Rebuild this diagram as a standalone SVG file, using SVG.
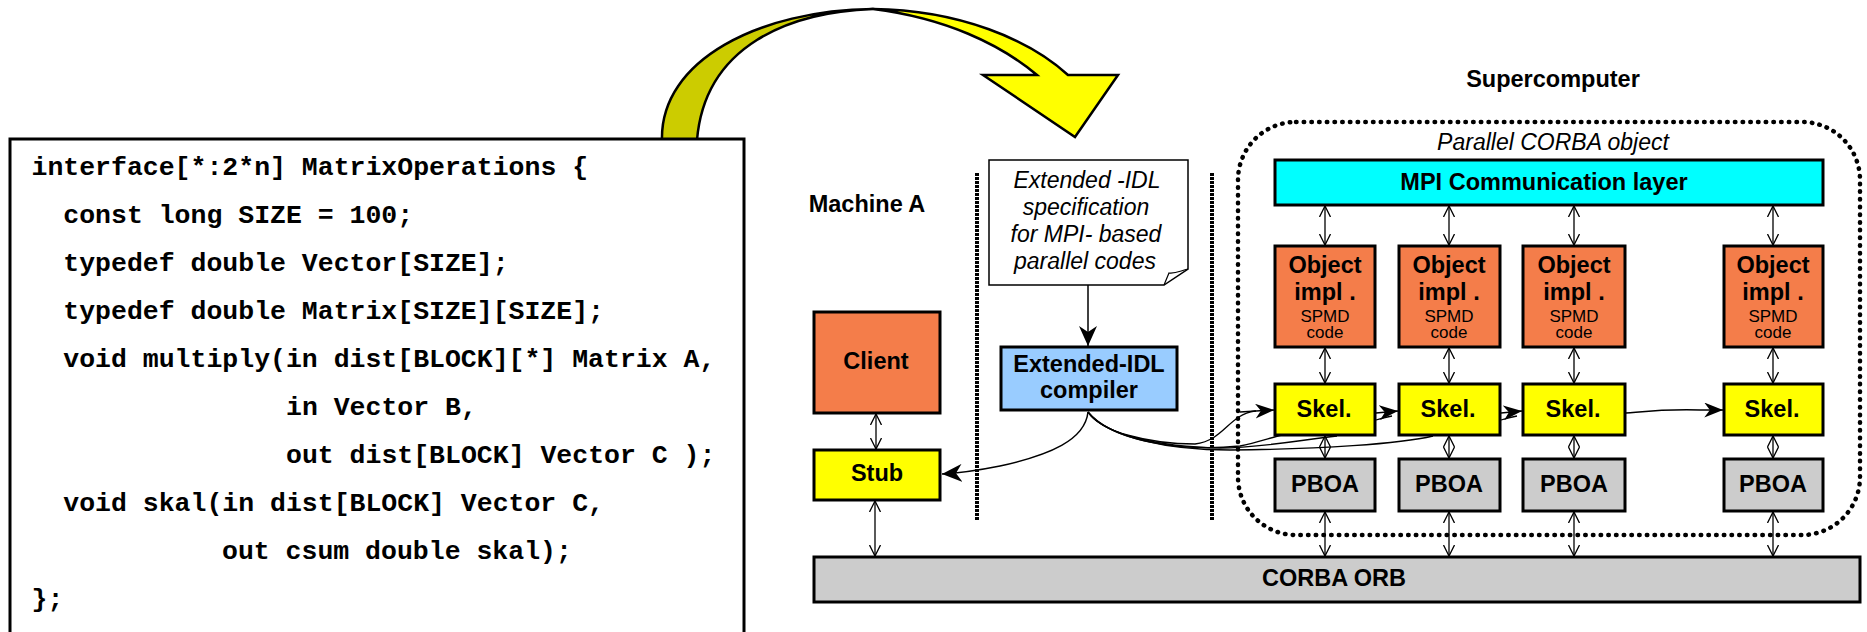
<svg xmlns="http://www.w3.org/2000/svg" width="1867" height="632" viewBox="0 0 1867 632">
  <style>
    .code { font-family: "Liberation Mono", "Courier New", monospace; font-weight: bold; font-size: 26.5px; fill: #000; }
    .lbl { font-family: "Liberation Sans", Arial, sans-serif; font-weight: bold; font-size: 23.5px; fill: #000; text-anchor: middle; }
    .ital { font-family: "Liberation Sans", Arial, sans-serif; font-style: italic; font-size: 23px; fill: #000; text-anchor: middle; }
    .small { font-family: "Liberation Sans", Arial, sans-serif; font-size: 17px; fill: #000; text-anchor: middle; }
    .box { stroke: #000; stroke-width: 3; }
    .orange { fill: #f47d4a; }
    .yellow { fill: #ffff00; }
    .gray { fill: #cccccc; }
    .cyan { fill: #00ffff; }
    .blue { fill: #99ccff; }
    .link { fill: none; stroke: #000; stroke-width: 1.3; }
    .dbl { fill: none; stroke: #000; stroke-width: 1.3; marker-start: url(#open); marker-end: url(#open); }
    .solid-arrow { fill: none; stroke: #000; stroke-width: 1.5; marker-end: url(#stealth); }
    .skel-arrow { fill: none; stroke: #000; stroke-width: 1.5; marker-end: url(#stealth-s); }
    .divider { fill: none; stroke: #000; stroke-width: 4; stroke-dasharray: 3 1; }
  </style>
  <defs>
    <marker id="open" viewBox="0 0 12 12" refX="11" refY="6" markerWidth="12" markerHeight="12" markerUnits="userSpaceOnUse" orient="auto-start-reverse">
      <path d="M0,0.5 L11,6 L0,11.5" fill="none" stroke="#000" stroke-width="1.3"/>
    </marker>
    <marker id="stealth" viewBox="0 0 20 18" refX="20" refY="9" markerWidth="20" markerHeight="18" markerUnits="userSpaceOnUse" orient="auto">
      <path d="M0,0 L20,9 L0,18 L6,9 Z" fill="#000"/>
    </marker>
    <marker id="stealth-s" viewBox="0 0 20 16" refX="20" refY="8" markerWidth="19" markerHeight="15" markerUnits="userSpaceOnUse" orient="auto">
      <path d="M0,0 L20,8 L0,16 L6,8 Z" fill="#000"/>
    </marker>
  </defs>

  <rect width="1867" height="632" fill="#fff"/>

  <!-- twisted ribbon arrow from the IDL listing to the compiler -->
  <g id="ribbon-arrow" stroke="#000" stroke-width="2.5" stroke-linejoin="miter">
    <path d="M873,9 C960,10 1030,40 1068,75 L1118,75 L1075,137 L983,75 L1037,75 C1000,44 945,18 873,9 Z" fill="#ffff00"/>
    <path d="M662,140 C660,60 760,10 873,9 C790,12 705,45 697,140 Z" fill="#cccc00"/>
  </g>

  <!-- IDL listing -->
  <g id="idl-listing">
    <rect class="box" x="10" y="139" width="734" height="520" fill="#fff"/>
    <text class="code" x="31.5" y="175">interface[*:2*n] MatrixOperations {</text>
    <text class="code" x="63.3" y="223">const long SIZE = 100;</text>
    <text class="code" x="63.3" y="271">typedef double Vector[SIZE];</text>
    <text class="code" x="63.3" y="319">typedef double Matrix[SIZE][SIZE];</text>
    <text class="code" x="63.3" y="367">void multiply(in dist[BLOCK][*] Matrix A,</text>
    <text class="code" x="286" y="415">in Vector B,</text>
    <text class="code" x="286" y="463">out dist[BLOCK] Vector C );</text>
    <text class="code" x="63.3" y="511">void skal(in dist[BLOCK] Vector C,</text>
    <text class="code" x="222" y="559">out csum double skal);</text>
    <text class="code" x="31.5" y="607">};</text>
  </g>

  <!-- section titles and dividers -->
  <g id="machine-a-title"><text class="lbl" x="867" y="212" font-size="24">Machine A</text></g>
  <g id="supercomputer-title"><text class="lbl" x="1553" y="87">Supercomputer</text></g>
  <g id="dividers">
    <line class="divider" x1="977" y1="173" x2="977" y2="520"/>
    <line class="divider" x1="1212" y1="173" x2="1212" y2="520"/>
  </g>

  <!-- parallel object boundary -->
  <g id="parallel-object">
    <rect x="1238" y="122" width="622" height="413" rx="58" ry="58" fill="none" stroke="#000" stroke-width="4.5" stroke-linecap="round" stroke-dasharray="0.5 7.2"/>
    <text class="ital" x="1553" y="150">Parallel  CORBA  object</text>
  </g>

  <!-- connectors -->
  <g id="connectors">
    <!-- compiler output bundle towards the skeletons -->
    <path class="link" d="M1088,412 C1100,432 1150,444 1195,444 C1225,440 1228,415 1255,411 L1256,411"/>
    <path class="skel-arrow" d="M1240,412 L1274,410"/>
    <path class="link" d="M1088,412 C1104,435 1160,447 1220,448 C1260,448 1300,440 1337,436"/>
    <path class="link" d="M1088,412 C1108,438 1170,450 1230,450 C1320,449 1400,444 1433,436"/>
    <path class="link" d="M1088,412 C1112,441 1180,452 1240,446 C1255,443 1270,438 1282,435"/>
    <path class="link" d="M1376,420 C1382,418 1386,417 1392,416"/>
    <path class="link" d="M1501,420 C1507,418 1511,417 1517,416"/>
    <path class="skel-arrow" d="M1376,413 L1398,411"/>
    <path class="skel-arrow" d="M1501,413 L1522,411"/>
    <path class="skel-arrow" d="M1626,413 C1650,411 1665,409 1700,410 L1723,410"/>
    <!-- note to compiler, compiler to stub -->
    <path class="solid-arrow" d="M1088,285 L1088,346"/>
    <path class="solid-arrow" d="M1088,412 C1085,440 1050,455 1000,466 C975,471 960,473 942,474"/>
    <!-- machine A -->
    <line class="dbl" x1="876" y1="414" x2="876" y2="449"/>
    <line class="dbl" x1="875" y1="501" x2="875" y2="556"/>
    <!-- parallel object columns -->
    <line class="dbl" x1="1325" y1="206" x2="1325" y2="245"/>
    <line class="dbl" x1="1449" y1="206" x2="1449" y2="245"/>
    <line class="dbl" x1="1574" y1="206" x2="1574" y2="245"/>
    <line class="dbl" x1="1773" y1="206" x2="1773" y2="245"/>
    <line class="dbl" x1="1325" y1="348" x2="1325" y2="383"/>
    <line class="dbl" x1="1449" y1="348" x2="1449" y2="383"/>
    <line class="dbl" x1="1574" y1="348" x2="1574" y2="383"/>
    <line class="dbl" x1="1773" y1="348" x2="1773" y2="383"/>
    <line class="dbl" x1="1325" y1="436" x2="1325" y2="458"/>
    <line class="dbl" x1="1449" y1="436" x2="1449" y2="458"/>
    <line class="dbl" x1="1574" y1="436" x2="1574" y2="458"/>
    <line class="dbl" x1="1773" y1="436" x2="1773" y2="458"/>
    <line class="dbl" x1="1325" y1="512" x2="1325" y2="556"/>
    <line class="dbl" x1="1449" y1="512" x2="1449" y2="556"/>
    <line class="dbl" x1="1574" y1="512" x2="1574" y2="556"/>
    <line class="dbl" x1="1773" y1="512" x2="1773" y2="556"/>
  </g>

  <!-- specification note -->
  <g id="idl-note">
    <path d="M989,160 H1188 V269 L1164,285 H989 Z" fill="#fff" stroke="#000" stroke-width="1.5"/>
    <path d="M1164,285 L1169,273 C1175,274 1180,271 1188,269" fill="none" stroke="#000" stroke-width="1.2"/>
    <text class="ital" x="1087" y="188">Extended -IDL</text>
    <text class="ital" x="1086" y="215">specification</text>
    <text class="ital" x="1086" y="242">for MPI- based</text>
    <text class="ital" x="1085" y="269">parallel  codes</text>
  </g>

  <g id="idl-compiler">
    <rect class="box blue" x="1001" y="347" width="176" height="63"/>
    <text class="lbl" x="1089" y="372">Extended-IDL</text>
    <text class="lbl" x="1089" y="398">compiler</text>
  </g>

  <g id="client">
    <rect class="box orange" x="814" y="312" width="126" height="101"/>
    <text class="lbl" x="876" y="369">Client</text>
  </g>
  <g id="stub">
    <rect class="box yellow" x="814" y="450" width="126" height="50"/>
    <text class="lbl" x="877" y="481">Stub</text>
  </g>

  <g id="mpi-layer">
    <rect class="box cyan" x="1275" y="160" width="548" height="45"/>
    <text class="lbl" x="1544" y="190">MPI Communication layer</text>
  </g>

  <g id="object-impl-1">
    <rect class="box orange" x="1275" y="246" width="100" height="101"/>
    <text class="lbl" x="1325" y="273">Object</text>
    <text class="lbl" x="1325" y="300">impl .</text>
    <text class="small" x="1325" y="322">SPMD</text>
    <text class="small" x="1325" y="338">code</text>
  </g>
  <g id="object-impl-2">
    <rect class="box orange" x="1399" y="246" width="101" height="101"/>
    <text class="lbl" x="1449" y="273">Object</text>
    <text class="lbl" x="1449" y="300">impl .</text>
    <text class="small" x="1449" y="322">SPMD</text>
    <text class="small" x="1449" y="338">code</text>
  </g>
  <g id="object-impl-3">
    <rect class="box orange" x="1523" y="246" width="102" height="101"/>
    <text class="lbl" x="1574" y="273">Object</text>
    <text class="lbl" x="1574" y="300">impl .</text>
    <text class="small" x="1574" y="322">SPMD</text>
    <text class="small" x="1574" y="338">code</text>
  </g>
  <g id="object-impl-4">
    <rect class="box orange" x="1724" y="246" width="99" height="101"/>
    <text class="lbl" x="1773" y="273">Object</text>
    <text class="lbl" x="1773" y="300">impl .</text>
    <text class="small" x="1773" y="322">SPMD</text>
    <text class="small" x="1773" y="338">code</text>
  </g>

  <g id="skel-1"><rect class="box yellow" x="1275" y="384" width="100" height="51"/><text class="lbl" x="1324" y="417">Skel.</text></g>
  <g id="skel-2"><rect class="box yellow" x="1399" y="384" width="101" height="51"/><text class="lbl" x="1448" y="417">Skel.</text></g>
  <g id="skel-3"><rect class="box yellow" x="1523" y="384" width="102" height="51"/><text class="lbl" x="1573" y="417">Skel.</text></g>
  <g id="skel-4"><rect class="box yellow" x="1724" y="384" width="99" height="51"/><text class="lbl" x="1772" y="417">Skel.</text></g>

  <g id="pboa-1"><rect class="box gray" x="1275" y="459" width="100" height="52"/><text class="lbl" x="1325" y="492">PBOA</text></g>
  <g id="pboa-2"><rect class="box gray" x="1399" y="459" width="101" height="52"/><text class="lbl" x="1449" y="492">PBOA</text></g>
  <g id="pboa-3"><rect class="box gray" x="1523" y="459" width="102" height="52"/><text class="lbl" x="1574" y="492">PBOA</text></g>
  <g id="pboa-4"><rect class="box gray" x="1724" y="459" width="99" height="52"/><text class="lbl" x="1773" y="492">PBOA</text></g>

  <g id="corba-orb">
    <rect class="box gray" x="814" y="557" width="1046" height="45"/>
    <text class="lbl" x="1334" y="586">CORBA ORB</text>
  </g>
</svg>
